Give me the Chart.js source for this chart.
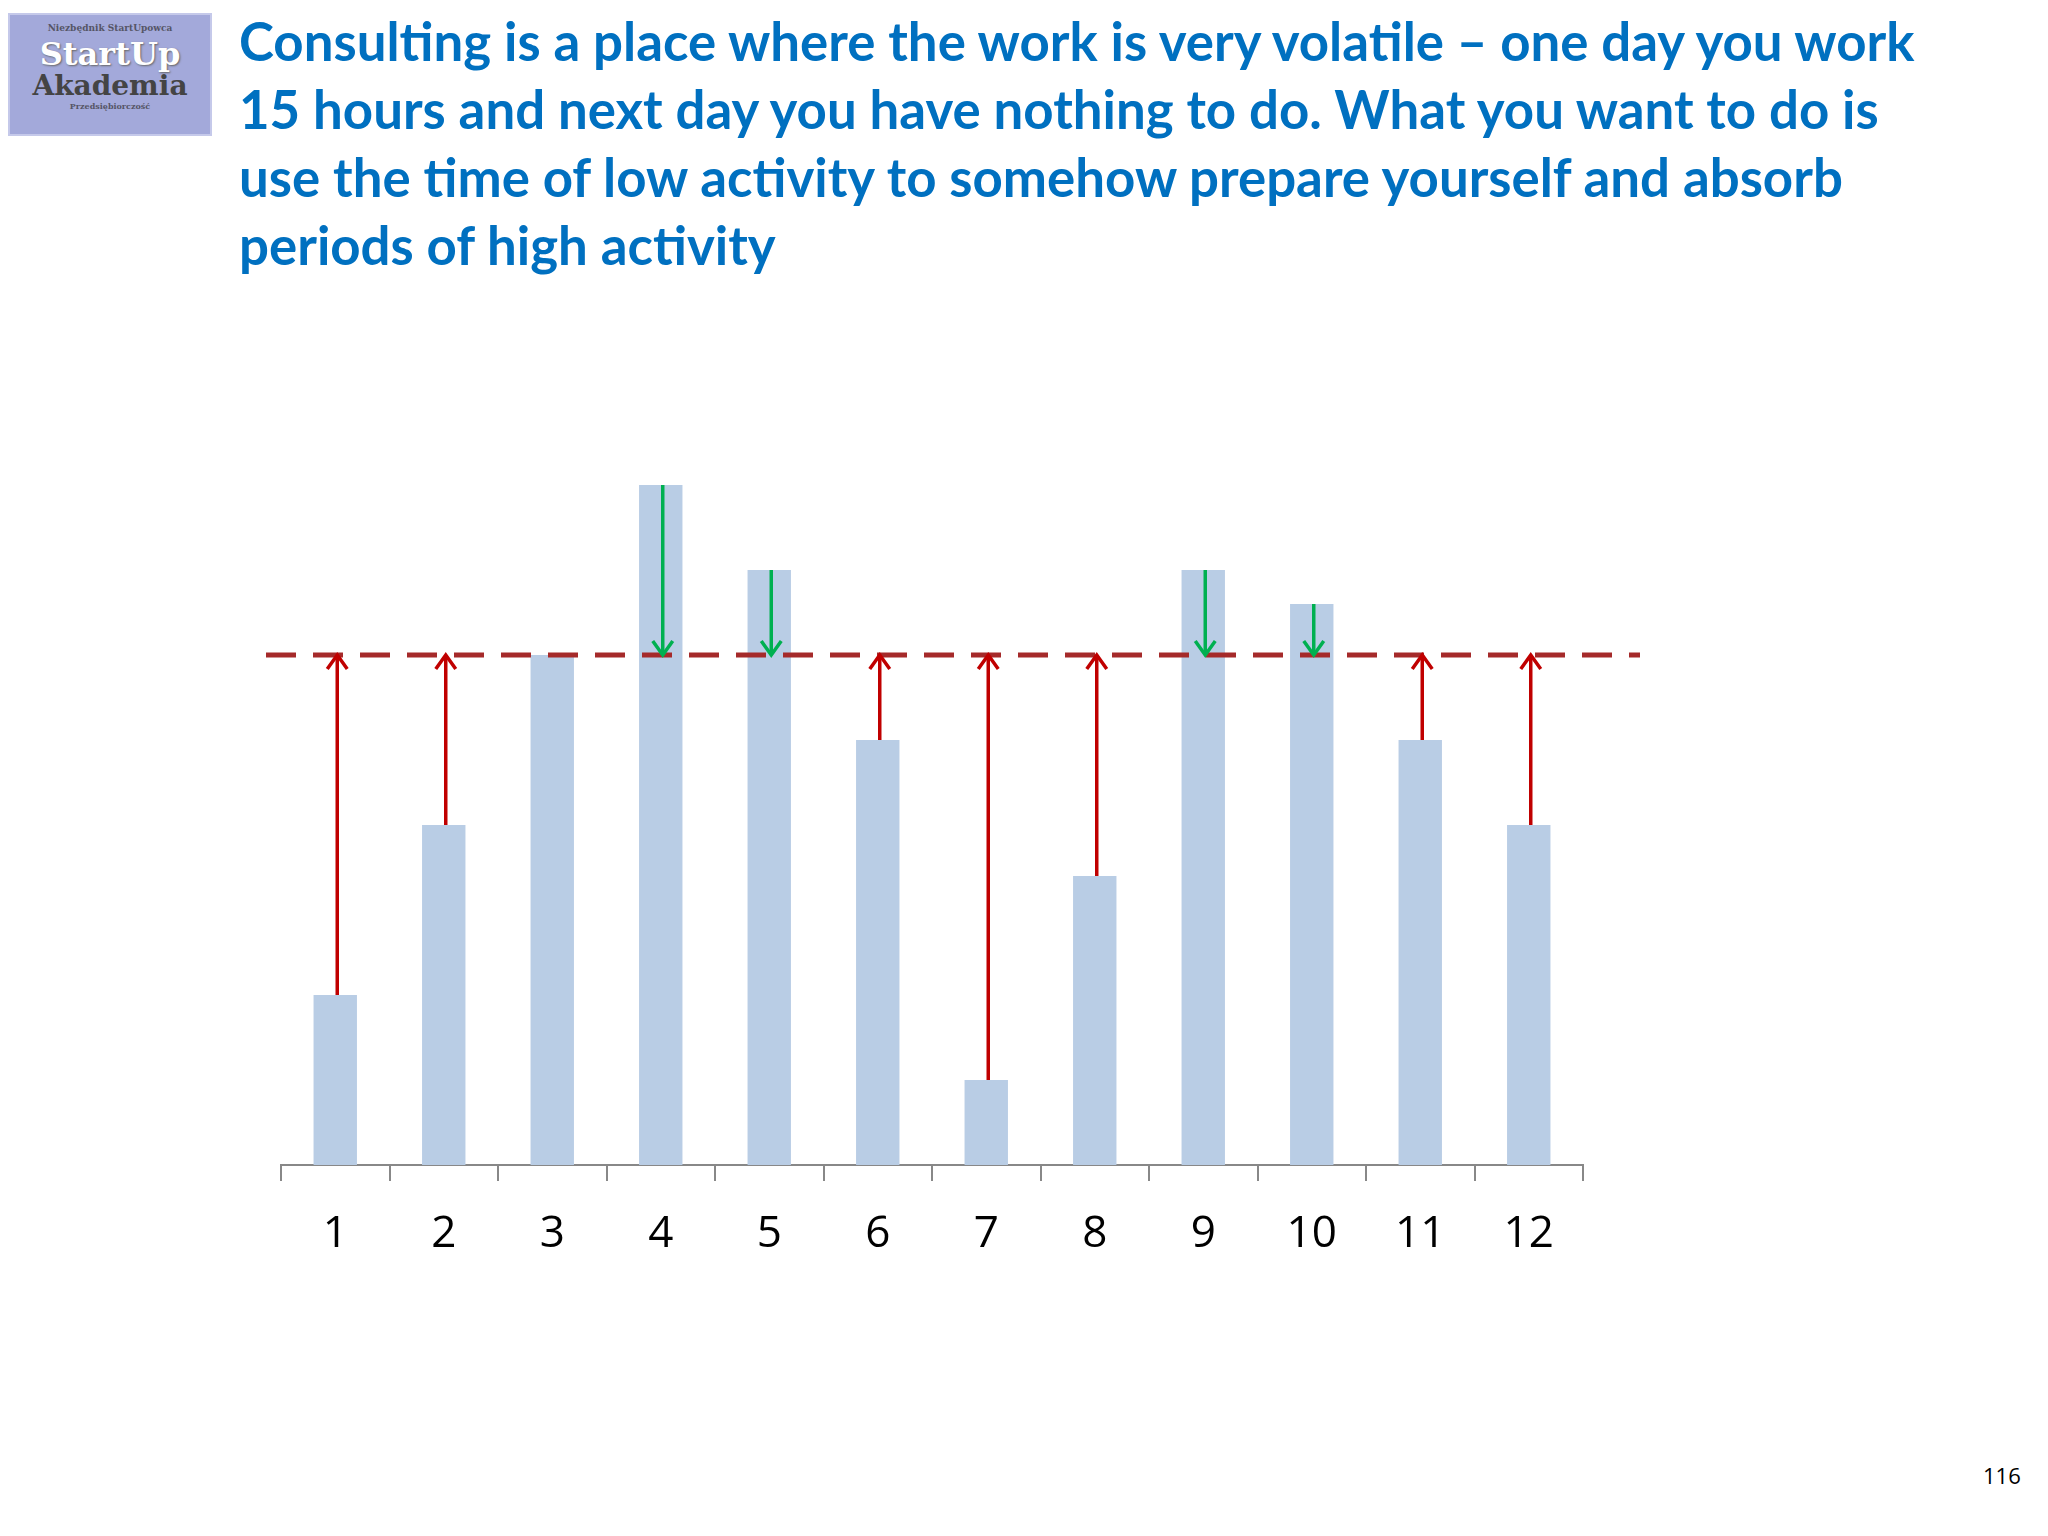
<!DOCTYPE html>
<html><head><meta charset="utf-8">
<script src="https://cdn.jsdelivr.net/npm/chart.js@4"></script>
<style>
html,body{margin:0;padding:0;background:#fff;width:2048px;height:1536px;overflow:hidden;position:relative}
#title{position:absolute;left:239px;top:7px;font-family:Lato,"Open Sans",sans-serif;font-weight:bold;font-size:52.8px;line-height:68px;color:#0070C0;white-space:nowrap}
#logo{position:absolute;left:8px;top:13px;width:204px;height:123px;background:#A3A9DA;border:2px solid #c5c9ea;box-sizing:border-box;text-align:center;font-family:"DejaVu Serif",serif;font-weight:bold}
#page{position:absolute;left:1983px;top:1460px;font-family:"Open Sans",sans-serif;font-size:22px;color:#000}
canvas{position:absolute;left:0;top:0}
</style></head><body>
<div id="logo"><div style="font-size:9px;color:#556;margin-top:8px">Niezbędnik StartUpowca</div><div style="font-size:32px;color:#fff;line-height:34px;margin-top:4px;text-shadow:1px 1px 2px #666">StartUp</div><div style="font-size:28px;color:#444;line-height:30px">Akademia</div><div style="font-size:8px;color:#556">Przedsiębiorczość</div></div>
<div id="title">Consulting is a place where the work is very volatile – one day you work<br>15 hours and next day you have nothing to do. What you want to do is<br>use the time of low activity to somehow prepare yourself and absorb<br>periods of high activity</div>
<div id="page">116</div>
<canvas id="c" width="2048" height="1536"></canvas>
<script>
const categories = ['1','2','3','4','5','6','7','8','9','10','11','12'];
const workload = [2, 4, 6, 8, 7, 5, 1, 3.4, 7, 6.6, 5, 4];
const targetLevel = 6;

const overlay = {
  id:'overlay',
  afterDatasetsDraw(chart){
    const ctx = chart.ctx, x = chart.scales.x, y = chart.scales.y;
    const ty = y.getPixelForValue(targetLevel);
    ctx.save();
    ctx.strokeStyle='#A52A2A'; ctx.lineWidth=5; ctx.setLineDash([30,17]);
    ctx.beginPath(); ctx.moveTo(266,ty); ctx.lineTo(1640,ty); ctx.stroke();
    ctx.setLineDash([]);
    workload.forEach((v,i)=>{
      if (v===targetLevel) return;
      const px = x.getPixelForValue(i) + 2;
      const from = y.getPixelForValue(v), to = ty;
      const col = v<targetLevel ? '#C00000' : '#00B050';
      const dir = v<targetLevel ? 1 : -1;
      ctx.strokeStyle=col; ctx.lineWidth=3.5;
      ctx.beginPath(); ctx.moveTo(px,from); ctx.lineTo(px,to); ctx.stroke();
      ctx.beginPath();
      ctx.moveTo(px-10,to+dir*14); ctx.lineTo(px,to); ctx.lineTo(px+10,to+dir*14); ctx.stroke();
    });
    ctx.restore();
  }
};

new Chart(document.getElementById('c'),{
  type:'bar',
  data:{labels:categories,datasets:[{data:workload,backgroundColor:'#B9CDE5',categoryPercentage:1,barPercentage:0.4}]},
  options:{
    responsive:false,animation:false,
    layout:{padding:{left:281,right:465,top:485,bottom:221}},
    plugins:{legend:{display:false},tooltip:{enabled:false}},
    scales:{
      y:{display:false,min:0,max:8},
      x:{
        afterFit(s){s.height=150;},
        border:{color:'#888',width:2},
        grid:{offset:true,drawOnChartArea:false,tickLength:16,color:'#888',lineWidth:2},
        ticks:{color:'#000',font:{family:'"Open Sans",sans-serif',size:44},padding:27}
      }
    }
  },
  plugins:[overlay]
});
</script>
</body></html>
